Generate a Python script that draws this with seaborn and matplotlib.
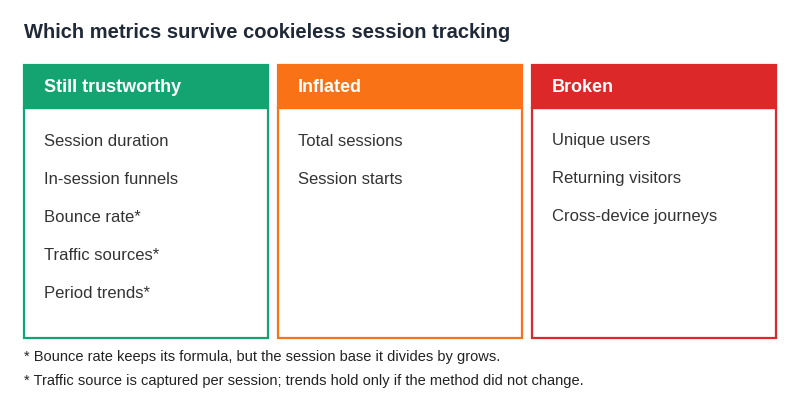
import matplotlib.pyplot as plt
import seaborn as sns

title = "Which metrics survive cookieless session tracking"
categories = ["Still trustworthy", "Inflated", "Broken"]
colors = ["#14a472", "#f97316", "#dc2828"]
items = [
    ["Session duration", "In-session funnels", "Bounce rate*", "Traffic sources*", "Period trends*"],
    ["Total sessions", "Session starts"],
    ["Unique users", "Returning visitors", "Cross-device journeys"],
]
footnotes = [
    "* Bounce rate keeps its formula, but the session base it divides by grows.",
    "* Traffic source is captured per session; trends hold only if the method did not change.",
]

sns.set_theme(style="white")
plt.rcParams['font.family'] = ['Liberation Sans', 'DejaVu Sans']

fig = plt.figure(figsize=(8, 4), dpi=100)
ax = fig.add_axes([0, 0, 1, 1])
ax.set_xlim(0, 800)
ax.set_ylim(400, 0)
ax.axis("off")

ax.text(24, 33, title, fontsize=14.5, fontweight="bold", color="#1f2937", va="center")

x0, w, gap = 24, 244, 10
for i, (cat, col, its) in enumerate(zip(categories, colors, items)):
    x = x0 + i * (w + gap)
    ax.add_patch(plt.Rectangle((x, 108), w, 230, facecolor="white", edgecolor=col, lw=1.6))
    ax.add_patch(plt.Rectangle((x, 65), w, 43, facecolor=col, edgecolor=col, lw=1.6))
    ax.text(x + 20, 87, cat, fontsize=13, fontweight="bold", color="white", va="center")
    for j, it in enumerate(its):
        ax.text(x + 20, 141 + j * 38, it, fontsize=12, color="#333333", va="center")

for k, fn in enumerate(footnotes):
    ax.text(24, 357 + k * 24, fn, fontsize=10.5, color="#222222", va="center")

fig.savefig("out.png", dpi=100)
